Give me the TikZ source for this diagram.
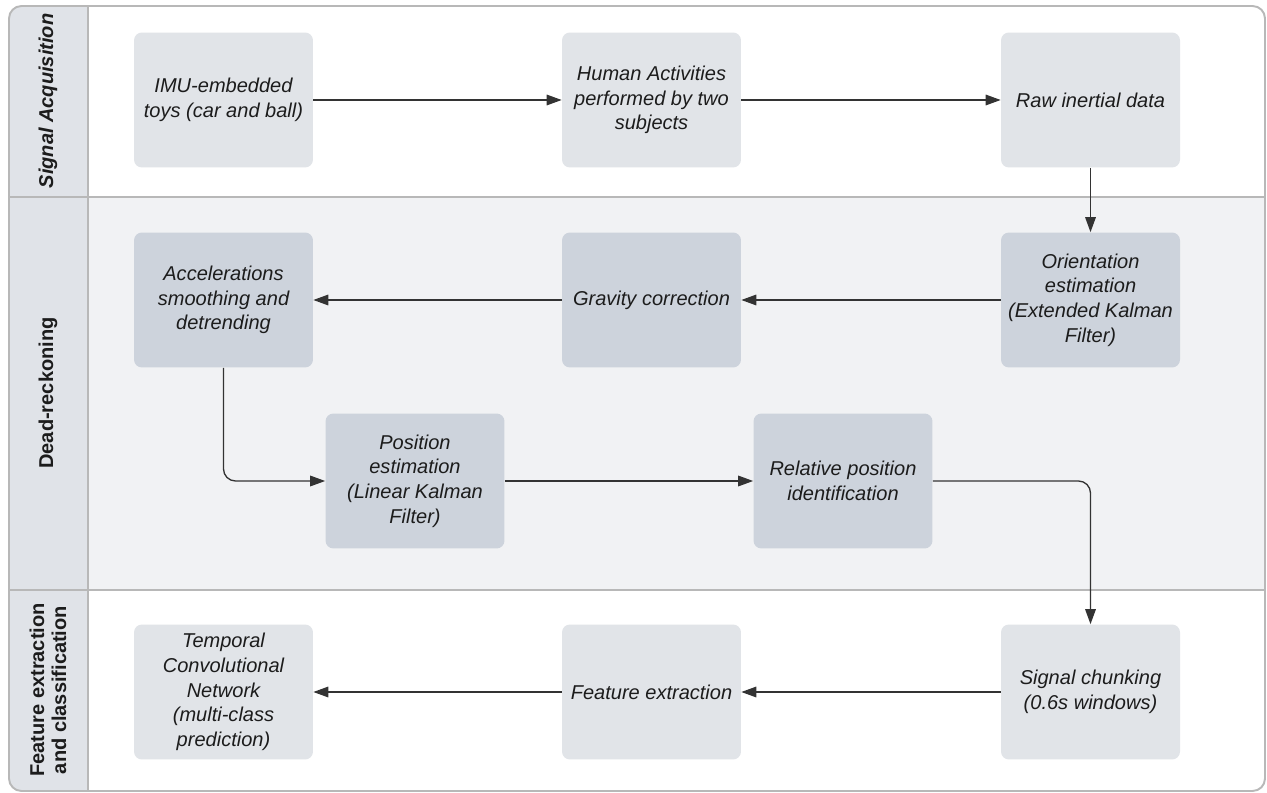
\documentclass[tikz,border=0pt]{standalone}
\usepackage{fontspec}
\setmainfont{Liberation Sans}
\usetikzlibrary{arrows.meta}

\definecolor{laneedge}{HTML}{B8B8B8}
\definecolor{lanehead}{HTML}{E0E3E8}
\definecolor{lanegray}{HTML}{F1F2F4}
\definecolor{boxlight}{HTML}{E1E4E8}
\definecolor{boxdark}{HTML}{CDD3DC}
\definecolor{flowline}{HTML}{333333}
\definecolor{inktext}{HTML}{1C1C1C}

\begin{document}
\begin{tikzpicture}[x=0.02cm,y=-0.02cm,
    task/.style={rectangle,rounded corners=4.5pt,fill=boxlight,minimum width=3.58cm,
        minimum height=2.7cm,align=center,text=inktext,
        font=\fontsize{11.4}{14}\selectfont\itshape},
    taskdr/.style={task,fill=boxdark},
    lanetitle/.style={rotate=90,align=center,text=inktext,
        font=\fontsize{11.4}{12.6}\selectfont\bfseries},
    flow/.style={draw=flowline,line width=0.75pt,-{Triangle[length=8.5pt,width=6pt]}}]

\useasboundingbox (0,0) rectangle (1267,793);

% lanes
\fill[white,rounded corners=0.25cm] (9,6) rectangle (1265,791);
\begin{scope}
\clip[rounded corners=0.25cm] (9,6) rectangle (1265,791);
\fill[lanegray] (9,197) rectangle (1265,590);
\fill[lanehead] (9,6) rectangle (88,791);
\end{scope}
\draw[laneedge,line width=1.1pt] (9,197) -- (1265,197);
\draw[laneedge,line width=1.1pt] (9,590) -- (1265,590);
\draw[laneedge,line width=1.1pt] (88,6) -- (88,791);
\draw[laneedge,line width=1.1pt,rounded corners=0.25cm] (9,6) rectangle (1265,791);

\node[lanetitle] (laneA) at (48,101) {\itshape Signal Acquisition};
\node[lanetitle] (laneB) at (48,393) {Dead-reckoning};
\node[lanetitle] (laneC) at (48,690) {Feature extraction\\and classification};

% signal acquisition
\node[task] (imu) at (223.5,100) {IMU-embedded\\toys (car and ball)};
\node[task] (human) at (651.5,100) {Human Activities\\performed by two\\subjects};
\node[task] (raw) at (1090.5,100) {Raw inertial data};

% dead-reckoning
\node[taskdr] (orient) at (1090.5,300) {Orientation\\estimation\\(Extended Kalman\\Filter)};
\node[taskdr] (grav) at (651.5,300) {Gravity correction};
\node[taskdr] (accel) at (223.5,300) {Accelerations\\smoothing and\\detrending};
\node[taskdr] (pos) at (415,481) {Position\\estimation\\(Linear Kalman\\Filter)};
\node[taskdr] (rel) at (843,481) {Relative position\\identification};

% feature extraction
\node[task] (chunk) at (1090.5,692) {Signal chunking\\(0.6s windows)};
\node[task] (feat) at (651.5,692) {Feature extraction};
\node[task] (tcn) at (223.5,692) {Temporal\\Convolutional\\Network\\(multi-class\\prediction)};

% connectors
\draw[flow] (imu) -- (human);
\draw[flow] (human) -- (raw);
\draw[flow] (raw) -- (orient);
\draw[flow] (orient) -- (grav);
\draw[flow] (grav) -- (accel);
\draw[flow,rounded corners=0.24cm] (accel.south) |- (pos.west);
\draw[flow] (pos) -- (rel);
\draw[flow,rounded corners=0.24cm] (rel.east) -| (chunk.north);
\draw[flow] (chunk) -- (feat);
\draw[flow] (feat) -- (tcn);

\end{tikzpicture}
\end{document}
